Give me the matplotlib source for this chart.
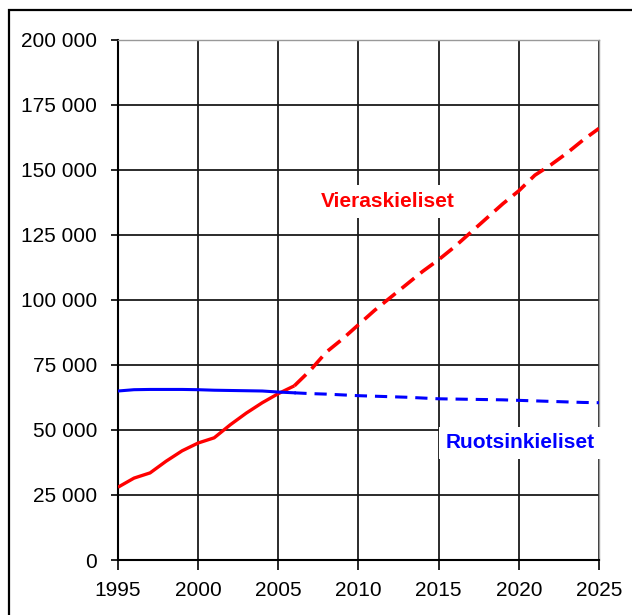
import matplotlib
matplotlib.use("Agg")
import matplotlib.pyplot as plt
from matplotlib.patches import Rectangle

plt.rcParams['font.family'] = ['Liberation Sans', 'DejaVu Sans']

# Observed (solid) and projected (dashed) years
years_obs = [1995, 1996, 1997, 1998, 1999, 2000, 2001, 2002, 2003, 2004, 2005, 2006]
years_proj = [2006, 2007, 2008, 2009, 2010, 2011, 2012, 2013, 2014, 2015, 2016,
              2017, 2018, 2019, 2020, 2021, 2022, 2023, 2024, 2025]

foreign_obs = [28000, 31500, 33500, 38000, 42000, 45000, 47000, 52000, 56500,
               60500, 64000, 67000]
foreign_proj = [67000, 73000, 80000, 85000, 90500, 96000, 101000, 106000, 111000,
                115500, 120500, 126000, 131500, 137000, 142000, 148000, 152000,
                156500, 161500, 166000]

swedish_obs = [65000, 65500, 65600, 65600, 65600, 65500, 65300, 65200, 65100,
               65000, 64600, 64300]
swedish_proj = [64300, 64000, 63800, 63500, 63200, 63000, 62800, 62600, 62300,
                62000, 61900, 61800, 61700, 61600, 61400, 61200, 61000, 60800,
                60600, 60500]

x_ticks = [1995, 2000, 2005, 2010, 2015, 2020, 2025]
y_ticks = [0, 25000, 50000, 75000, 100000, 125000, 150000, 175000, 200000]
y_tick_labels = ['0', '25 000', '50 000', '75 000', '100 000', '125 000',
                 '150 000', '175 000', '200 000']

label_foreign = 'Vieraskieliset'
label_swedish = 'Ruotsinkieliset'

fig = plt.figure(figsize=(6.32, 6.15), dpi=100)
fig.patch.set_facecolor('white')

# outer frame (cropped on right and bottom)
fig.add_artist(Rectangle((9 / 632, -0.2), 1.5, 1 - 10 / 615 + 0.2,
                         transform=fig.transFigure, fill=False,
                         edgecolor='black', linewidth=1.6, clip_on=False))

ax = fig.add_axes([118 / 632, 1 - 560 / 615, 481 / 632, 520 / 615])
ax.set_xlim(1995, 2025)
ax.set_ylim(0, 200000)

ax.set_xticks(x_ticks)
ax.set_xticklabels([str(t) for t in x_ticks])
ax.set_yticks(y_ticks)
ax.set_yticklabels(y_tick_labels)

ax.grid(True, color='#1a1a1a', linewidth=1.3, zorder=0)
ax.set_axisbelow(True)

for side in ['top', 'right']:
    ax.spines[side].set_color('#999999')
    ax.spines[side].set_linewidth(1.0)
for side in ['left', 'bottom']:
    ax.spines[side].set_color('black')
    ax.spines[side].set_linewidth(1.5)

ax.tick_params(axis='y', direction='out', length=5, width=1.2, pad=10,
               labelsize=15, colors='black')
ax.tick_params(axis='x', direction='out', length=7, width=1.2, pad=8,
               labelsize=15, colors='black')

ax.plot(years_obs, foreign_obs, color='#ff0000', linewidth=2.4,
        solid_capstyle='butt', zorder=3)
ax.plot(years_proj, foreign_proj, color='#ff0000', linewidth=2.6,
        dashes=(4.5, 2.2), zorder=3)
ax.plot(years_obs, swedish_obs, color='#0000ff', linewidth=2.2, zorder=3)
ax.plot(years_proj, swedish_proj, color='#0000ff', linewidth=2.2,
        dashes=(4, 2.6), zorder=3)

ax.text(2011.8, 138000, label_foreign, color='#ff0000', fontsize=15,
        fontweight='bold', ha='center', va='center', zorder=4,
        bbox=dict(facecolor='white', edgecolor='none', pad=5))
ax.text(2020.1, 45000, label_swedish, color='#0000ff', fontsize=15,
        fontweight='bold', ha='center', va='center', zorder=4,
        bbox=dict(facecolor='white', edgecolor='none', pad=5))

fig.savefig('out.png', dpi=100, facecolor='white')
